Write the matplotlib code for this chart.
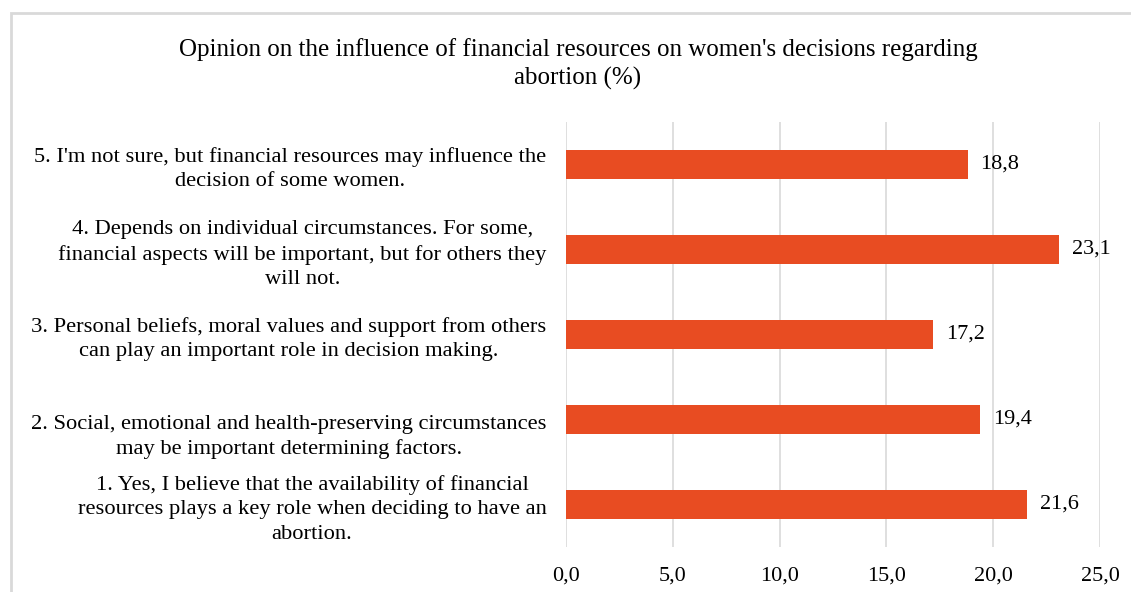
import matplotlib.pyplot as plt
from matplotlib.patches import Rectangle
from matplotlib.transforms import ScaledTranslation

plt.rcParams['font.family'] = ['Liberation Serif', 'DejaVu Serif']

labels = [
    "1. Yes, I believe that the availability of financial\nresources plays a key role when deciding to have an\nabortion.",
    "2. Social, emotional and health-preserving circumstances\nmay be important determining factors.",
    "3. Personal beliefs, moral values and support from others\ncan play an important role in decision making.",
    "4. Depends on individual circumstances. For some,\nfinancial aspects will be important, but for others they\nwill not.",
    "5. I'm not sure, but financial resources may influence the\ndecision of some women.",
]
values = [21.6, 19.4, 17.2, 23.1, 18.8]
ticks = [0, 5, 10, 15, 20, 25]

W, H = 1131, 592
fig = plt.figure(figsize=(W / 100, H / 100), dpi=100)
ax = fig.add_axes([566 / W, 1 - 547 / H, (1100 - 566) / W, (547 - 122) / H])

# chart border (cut off at right and bottom)
fig.patches.append(Rectangle((11 / W, -0.1), 1.2, 1 - 13 / H + 0.1,
                             transform=fig.transFigure, fill=False,
                             edgecolor='#d9d9d9', linewidth=2))

ypos = list(range(len(values)))
ax.barh(ypos, values, height=0.35, color='#e84c22', zorder=3)
for y, v in zip(ypos, values):
    ax.text(v + 0.6, y, f"{v:.1f}".replace('.', ','), va='center', ha='left', fontsize=16)

ax.set_xlim(0, 25)
ax.set_ylim(-0.5, 4.5)
ax.set_xticks(ticks)
ax.set_xticklabels([f"{t:.1f}".replace('.', ',') for t in ticks], fontsize=16)
ax.set_yticks(ypos)
ax.set_yticklabels(labels, fontsize=16.2, ha='right', multialignment='center', linespacing=1.36)
ax.tick_params(axis='both', length=0)
ax.tick_params(axis='x', pad=14)
ax.tick_params(axis='y', pad=14)
ax.grid(axis='x', color='#d9d9d9', linewidth=1.2, zorder=0)
for s in ax.spines.values():
    s.set_visible(False)

# label 2 sits a little lower than its bar in the original
lab2 = ax.get_yticklabels()[1]
lab2.set_transform(lab2.get_transform() + ScaledTranslation(0, -0.12, fig.dpi_scale_trans))

fig.text(578 / W, 1 - 64 / H,
         "Opinion on the influence of financial resources on women's decisions regarding\nabortion (%)",
         ha='center', va='center', fontsize=18, linespacing=1.35)

fig.savefig('out.png', dpi=100)
